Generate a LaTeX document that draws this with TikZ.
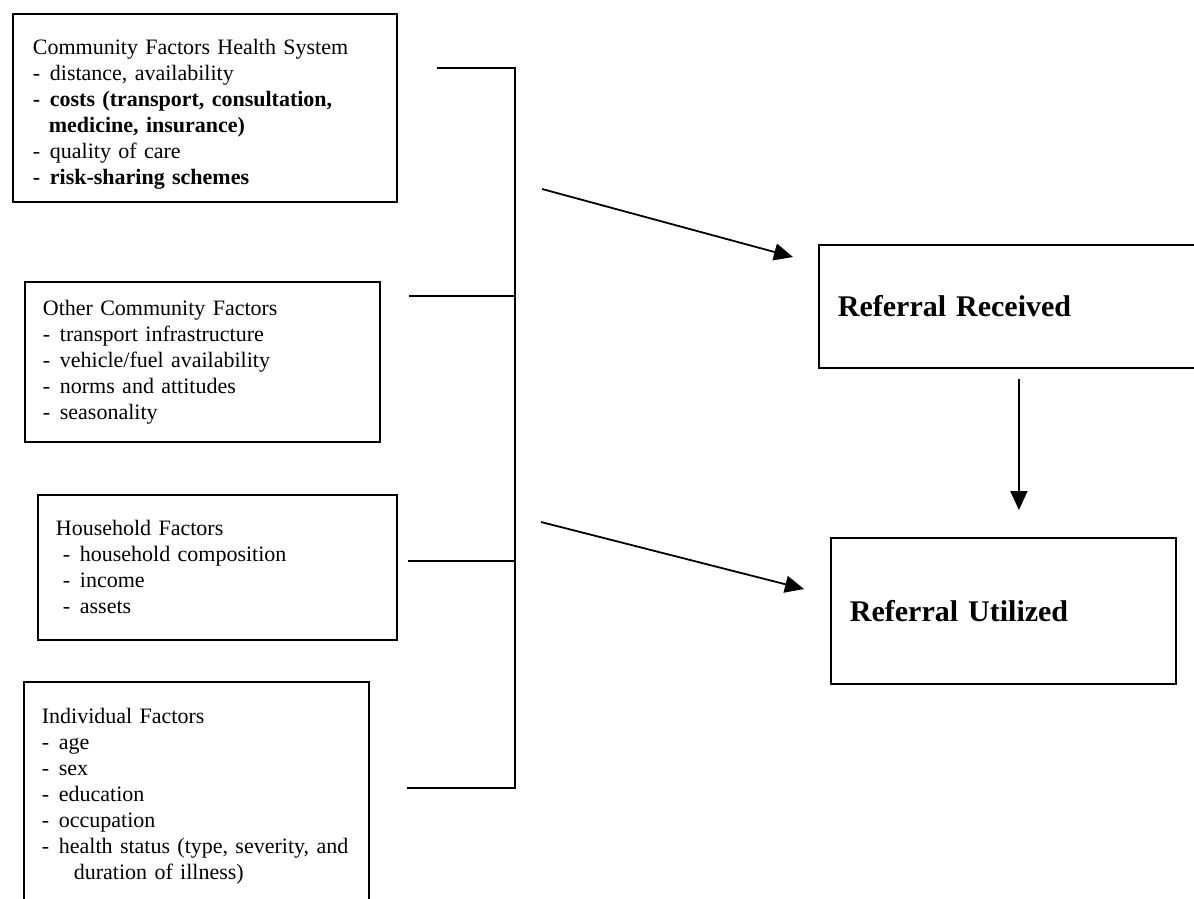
\documentclass[tikz,border=0pt]{standalone}
\usepackage{fontspec}
\setmainfont{Liberation Serif}
\usetikzlibrary{arrows.meta}
\newcommand{\dashitem}{\makebox[8.5pt][l]{-}}

\begin{document}
\begin{tikzpicture}[x=0.5pt, y=-0.5pt]

  \tikzset{FactorStyle/.style = {
  draw,
  line width = 0.9pt,
  anchor = north west,
  align = left,
  inner ysep = 4pt,
  font = \fontsize{11}{13}\selectfont}}
  \tikzset{ReferralStyle/.style = {
  draw,
  line width = 0.9pt,
  anchor = north west,
  align = left,
  inner xsep = 9.5pt,
  font = \fontsize{15}{18}\selectfont\bfseries}}
  \tikzset{LinkStyle/.style = {line width = 0.9pt}}
  \tikzset{ArrowStyle/.style = {
  line width = 0.9pt,
  -{Triangle[length=9.5pt, width=8.5pt]}}}

  \useasboundingbox (0,0) rectangle (1194,899);

  \node[FactorStyle, text width=172pt, inner xsep=10pt, minimum height=94pt,
    execute at begin node = {\rule{0pt}{14.5pt}}] (C1) at (12,13) {%
    Community Factors Health System\\
    \dashitem distance, availability\\
    \textbf{\dashitem costs (transport, consultation,}\\
    \hspace*{8pt}\textbf{medicine, insurance)}\\
    \dashitem quality of care\\
    \textbf{\dashitem risk-sharing schemes}};
  \node[FactorStyle, text width=159.5pt, inner xsep=9pt, minimum height=80pt] (C2) at (24,281) {%
    Other Community Factors\\
    \dashitem transport infrastructure\\
    \dashitem vehicle/fuel availability\\
    \dashitem norms and attitudes\\
    \dashitem seasonality};
  \node[FactorStyle, text width=161.5pt, inner xsep=9pt, minimum height=72.5pt] (H1) at (37,494) {%
    Household Factors\\
    \hspace*{3.5pt}\dashitem household composition\\
    \hspace*{3.5pt}\dashitem income\\
    \hspace*{3.5pt}\dashitem assets};
  \node[FactorStyle, text width=154.5pt, inner xsep=9pt, minimum height=114pt] (I1) at (23,681) {%
    Individual Factors\\
    \dashitem age\\
    \dashitem sex\\
    \dashitem education\\
    \dashitem occupation\\
    \dashitem health status (type, severity, and\\
    \hspace*{16pt}duration of illness)};

  \node[ReferralStyle, text width=181pt, minimum height=61.5pt] (R1) at (818,244) {Referral Received};
  \node[ReferralStyle, text width=153.5pt, minimum height=73pt] (U1) at (830,537) {Referral Utilized};

  \coordinate (T1) at (437,68);
  \coordinate (T2) at (409,296);
  \coordinate (T3) at (408,561);
  \coordinate (T4) at (407,788);
  \coordinate (J1) at (515,68);
  \coordinate (J4) at (515,788);
  \draw[LinkStyle] (T1) -- (J1) -- (J4) -- (T4);
  \draw[LinkStyle] (T2) -- (T2 -| J1);
  \draw[LinkStyle] (T3) -- (T3 -| J1);

  \coordinate (A1) at (542,189);
  \coordinate (A2) at (793,257);
  \coordinate (B1) at (541,522);
  \coordinate (B2) at (804,589);
  \draw[ArrowStyle] (A1) -- (A2);
  \draw[ArrowStyle] (B1) -- (B2);
  \draw[ArrowStyle, shorten <=5pt, shorten >=13.5pt] (R1.south) -- (R1.south |- U1.north);
\end{tikzpicture}
\end{document}
